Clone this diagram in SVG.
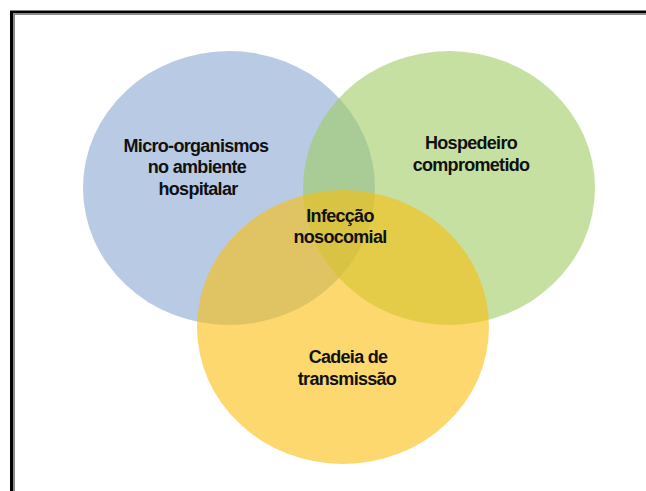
<svg xmlns="http://www.w3.org/2000/svg" width="646" height="491" viewBox="0 0 646 491">
<style>
.lbl{font-family:"Liberation Sans",Arial,sans-serif;font-weight:bold;font-size:18px;letter-spacing:-0.7px;fill:#111;text-anchor:middle}
.set{opacity:0.6}
</style>
<rect width="646" height="491" fill="#fff"/>
<g id="frame" fill="none">
<polyline points="11.5,491 11.5,12 646,12" stroke="#000" stroke-width="3"/>
<polyline points="14,491 14,14 646,14" stroke="#8a8a8a" stroke-width="2"/>
</g>
<g id="connectors"></g>
<g id="blue">
<ellipse class="set" cx="229" cy="188" rx="146" ry="137" fill="#8aa8d2"/>
</g>
<g id="green">
<ellipse class="set" cx="449" cy="188" rx="146" ry="137" fill="#9ecb61"/>
</g>
<g id="yellow">
<ellipse class="set" cx="343" cy="327" rx="146" ry="137" fill="#fabe0d"/>
</g>
<g id="labels">
<text class="lbl" x="196" y="152">Micro-organismos</text>
<text class="lbl" x="197" y="173">no ambiente</text>
<text class="lbl" x="198" y="195">hospitalar</text>
<text class="lbl" x="471" y="149">Hospedeiro</text>
<text class="lbl" x="471" y="171">comprometido</text>
<text class="lbl" x="340" y="222">Infecção</text>
<text class="lbl" x="340" y="243">nosocomial</text>
<text class="lbl" x="348" y="363">Cadeia de</text>
<text class="lbl" x="347" y="385">transmissão</text>
</g>
</svg>
